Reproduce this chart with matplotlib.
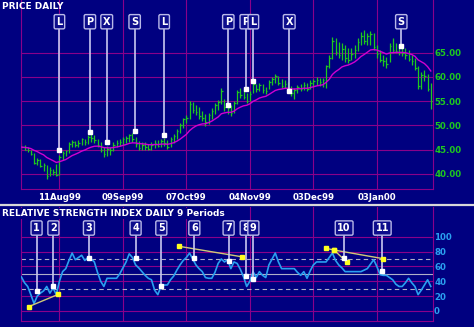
import matplotlib.pyplot as plt
from matplotlib.lines import Line2D
import numpy as np
import pandas as pd

# daily bars (index 0 = first bar, late Jul 1999)
high = [46.3, 46.0, 45.6, 45.0, 44.3, 43.2, 43.0, 42.2, 41.8, 41.4,
        41.0, 42.0, 43.8, 44.6, 45.0, 46.5, 47.0, 46.8, 47.0, 47.4,
        47.2, 48.0, 48.5, 48.0, 47.2, 46.5, 45.6, 45.8, 45.6, 46.5,
        46.9, 47.2, 47.6, 47.8, 48.2, 48.4, 47.6, 46.8, 46.6, 46.6,
        46.2, 46.5, 46.9, 47.0, 47.2, 47.4, 47.0, 47.5, 48.2, 49.3,
        50.4, 51.6, 52.2, 55.0, 54.8, 54.2, 53.8, 53.0, 52.3, 52.6,
        53.6, 54.6, 55.2, 57.7, 55.5, 54.0, 54.2, 55.0, 57.2, 57.8,
        57.2, 56.6, 57.0, 59.0, 58.6, 58.8, 58.5, 58.0, 59.4, 60.0,
        60.6, 60.2, 59.6, 59.4, 59.0, 58.2, 57.8, 58.4, 58.6, 59.0,
        58.8, 59.3, 59.6, 60.0, 59.8, 59.8, 62.5, 64.5, 68.3, 68.0,
        67.2, 67.0, 66.5, 66.0, 66.0, 66.5, 68.0, 69.2, 69.7, 69.0,
        69.5, 69.0, 66.5, 65.6, 64.6, 64.2, 67.0, 68.0, 67.0, 66.6,
        66.4, 66.0, 65.6, 64.6, 64.0, 62.2, 61.0, 61.5, 60.6, 58.7]
low = [44.9, 44.8, 44.4, 43.8, 42.1, 41.8, 41.3, 40.5, 39.0, 39.6,
       39.8, 39.5, 39.7, 42.8, 43.6, 44.2, 45.6, 45.5, 45.6, 45.9,
       46.0, 46.2, 46.6, 46.4, 45.6, 44.5, 43.5, 43.6, 43.8, 44.6,
       45.5, 45.8, 46.0, 46.3, 46.6, 46.5, 45.6, 45.0, 44.8, 45.0,
       44.8, 45.0, 45.4, 45.5, 45.6, 45.8, 45.2, 45.5, 46.4, 47.2,
       48.5, 49.4, 50.5, 51.3, 52.6, 52.2, 51.4, 50.8, 49.8, 50.2,
       51.4, 52.4, 53.2, 54.4, 53.0, 52.3, 52.0, 52.6, 54.5, 55.6,
       55.4, 54.6, 55.0, 56.6, 56.8, 57.0, 56.6, 56.5, 57.4, 58.3,
       58.8, 58.3, 57.8, 57.8, 57.2, 56.0, 55.4, 56.6, 57.0, 57.2,
       57.0, 57.4, 58.0, 58.4, 58.2, 58.0, 57.8, 61.8, 63.8, 64.5,
       64.0, 63.5, 63.0, 62.9, 63.5, 64.0, 65.4, 66.5, 66.8, 66.5,
       66.6, 65.5, 64.0, 63.0, 62.2, 61.8, 63.0, 65.0, 64.9, 64.6,
       64.4, 63.8, 63.2, 62.4, 61.4, 57.4, 57.6, 59.2, 57.0, 53.4]
close = [45.5, 45.0, 44.8, 44.0, 42.3, 42.8, 41.6, 41.8, 39.5, 40.8,
         40.3, 39.8, 43.5, 44.2, 44.6, 46.2, 46.6, 45.9, 46.4, 47.1,
         46.5, 47.6, 47.3, 46.9, 45.9, 44.9, 44.0, 45.2, 45.0, 46.0,
         46.3, 46.6, 47.1, 47.4, 47.9, 47.2, 46.1, 45.4, 45.9, 45.6,
         45.2, 45.9, 46.4, 45.8, 46.8, 46.3, 45.6, 47.2, 47.8, 48.9,
         50.0, 51.2, 51.6, 54.3, 53.2, 52.8, 51.9, 51.5, 50.6, 52.2,
         53.0, 54.2, 54.8, 57.0, 53.8, 53.6, 52.6, 54.6, 56.8, 56.2,
         55.9, 55.0, 56.5, 58.5, 57.4, 58.3, 57.3, 57.0, 59.0, 59.6,
         60.2, 58.8, 58.2, 58.6, 57.8, 56.6, 57.2, 58.0, 57.6, 58.4,
         57.5, 58.8, 59.2, 59.4, 59.0, 59.3, 62.2, 64.0, 67.5, 65.2,
         64.6, 65.8, 64.0, 63.5, 64.8, 65.5, 67.2, 68.5, 67.5, 68.4,
         68.9, 66.2, 64.8, 63.5, 63.2, 62.6, 66.4, 65.6, 65.4, 65.1,
         65.0, 64.6, 63.6, 63.2, 61.8, 58.2, 60.4, 60.2, 57.6, 55.0]

# RSI 9 periods
rsi = [46, 38, 33, 22, 10, 20, 24, 27, 33, 24,
       31, 22, 40, 53, 57, 68, 78, 69, 72, 75,
       68, 72, 70, 66, 52, 40, 33, 44, 44, 44,
       44, 50, 58, 66, 77, 72, 62, 58, 53, 48,
       44, 42, 28, 22, 33, 35, 35, 42, 47, 55,
       62, 68, 72, 78, 70, 62, 57, 53, 45, 44,
       44, 52, 64, 70, 66, 69, 57, 66, 64, 56,
       46, 33, 40, 53, 45, 53, 48, 45, 62, 70,
       78, 66, 57, 57, 57, 57, 57, 52, 48, 53,
       44, 54, 62, 66, 66, 66, 66, 72, 78, 68,
       62, 58, 53, 53, 53, 53, 53, 53, 55, 57,
       63, 69, 60, 49, 48, 48, 45, 42, 36, 33,
       33, 38, 44, 38, 33, 22, 28, 35, 42, 33]

date_pos = [12, 32, 52, 72, 92, 112]
date_labels = ["11Aug99", "09Sep99", "07Oct99", "04Nov99", "03Dec99", "03Jan00"]

price_ticks = [40, 45, 50, 55, 60, 65]
rsi_ticks = [0, 20, 40, 60, 80, 100]

# (label, bar position, price at marker)
price_marks = [("L", 12.0, 44.9), ("P", 21.6, 48.6), ("X", 26.9, 46.5),
               ("S", 35.7, 48.8), ("L", 45.0, 47.9), ("P", 65.2, 54.1),
               ("P", 70.7, 57.5), ("L", 73.1, 59.2), ("X", 84.4, 57.1),
               ("S", 119.7, 66.4)]
rsi_marks = [("1", 4.8, 27.3), ("2", 10.1, 33.0), ("3", 21.3, 72.0),
             ("4", 36.0, 71.0), ("5", 44.1, 33.0), ("6", 54.5, 71.0),
             ("7", 65.3, 67.0), ("8", 70.7, 47.0), ("9", 73.1, 43.5),
             ("10", 101.7, 72.0), ("11", 113.7, 53.4)]
# divergence trend lines on the RSI
div_x = [[2.3, 11.7], [49.8, 69.4], [95.9, 98.5, 114.0], [98.5, 102.6]]
div_y = [[5.8, 22.5], [87.0, 73.0], [84.4, 82.1, 70.4], [82.1, 65.5]]

NAVY = "#000080"
GRID = "#8a008a"
GREEN = "#1ec81e"
BLUE = "#2aa0f0"
W, H = 474, 327


def box(l, t, r, b):
    return [l / W, 1 - b / H, (r - l) / W, (b - t) / H]


def marker(ax, x, y, label, top):
    ax.plot([x, x], [top, y], color="#c8c8f0", lw=1.2, zorder=4)
    ax.plot(x, y, "s", ms=3, color="white", zorder=5)


fig = plt.figure(figsize=(4.74, 3.27), dpi=100, facecolor=NAVY)
ax = fig.add_axes(box(20.7, 0, 432.7, 189))
ax2 = fig.add_axes(box(20.7, 207, 432.7, 321))

x = np.arange(len(close))
for a in (ax, ax2):
    a.set_facecolor(NAVY)
    a.set_xlim(-0.2, 129.6)
    for s in a.spines.values():
        s.set_color(GRID)
        s.set_linewidth(0.8)
    a.spines["top"].set_visible(False)
    a.yaxis.tick_right()
    a.tick_params(length=0)
    for p in date_pos:
        a.axvline(p, color=GRID, lw=0.8, zorder=1)

# price panel
ax.set_ylim(36.84, 75.89)
for p in price_ticks:
    ax.axhline(p, color=GRID, lw=0.8, zorder=1)
ax.vlines(x, low, high, color=GREEN, lw=0.9, zorder=2)
ax.hlines(close, x, x + 0.5, color=GREEN, lw=0.9, zorder=2)
ma = pd.Series(close).ewm(span=15, adjust=False).mean()
ax.plot(x, ma, color="#d000d0", lw=1.0, zorder=3)

ax.set_yticks(price_ticks)
ax.set_yticklabels([f"{p:.2f}" for p in price_ticks], color=GREEN,
                   fontsize=6.2, fontweight="bold")
ax.tick_params(axis="y", pad=1)
ax.set_xticks(date_pos)
ax.set_xticklabels(date_labels, color="white", fontsize=6.2, fontweight="bold")
ax.tick_params(axis="x", pad=3)

for lab, mx, my in price_marks:
    marker(ax, mx, my, lab, 70.1)
    ax.text(mx, 71.4, lab, ha="center", va="center", color="white",
            fontsize=7, fontweight="bold", zorder=6,
            bbox=dict(boxstyle="round,pad=0.22,rounding_size=0.15",
                      fc="#0c0c8c", ec="#b8b8e8", lw=1))

fig.text(2 / W, 1 - 6.5 / H, "PRICE DAILY", color="white", fontsize=6.5,
         fontweight="bold", va="center", ha="left")

# separator between panels
fig.add_artist(Line2D([0, 1], [1 - 205 / H] * 2, transform=fig.transFigure,
                      color="#d8d8d8", lw=1.6))

# RSI panel
ax2.set_ylim(-13.5, 140)
for r in rsi_ticks:
    ax2.axhline(r, color=GRID, lw=0.8, zorder=1)
for r in (30, 70):
    ax2.axhline(r, color="#b0b0c8", lw=0.8, ls=(0, (4, 3)), zorder=1)
ax2.axhline(50, color="#b0b0c8", lw=0.8, zorder=1)
ax2.plot(x, rsi, color=BLUE, lw=1.2, zorder=3)

ax2.set_yticks(rsi_ticks)
ax2.set_yticklabels([str(r) for r in rsi_ticks], color=BLUE,
                    fontsize=6.2, fontweight="bold")
ax2.tick_params(axis="y", pad=1)
ax2.set_xticks([])

for dx, dy in zip(div_x, div_y):
    ax2.plot(dx, dy, color="#d0c878", lw=1.0, zorder=4)
    ax2.plot(dx, dy, "s", ms=3.5, color="#ffff20", zorder=5)

for lab, mx, my in rsi_marks:
    marker(ax2, mx, my, lab, 102.3)
    ax2.text(mx, 111.7, lab, ha="center", va="center", color="white",
             fontsize=7, fontweight="bold", zorder=6,
             bbox=dict(boxstyle="round,pad=0.22,rounding_size=0.15",
                       fc="#0c0c8c", ec="#b8b8e8", lw=1))

fig.text(2 / W, 1 - 213.5 / H, "RELATIVE STRENGTH INDEX DAILY 9 Periods",
         color="white", fontsize=6.5, fontweight="bold", va="center",
         ha="left", bbox=dict(fc=NAVY, ec="none", pad=0.5))

fig.savefig("out.png", dpi=100, facecolor=NAVY)
